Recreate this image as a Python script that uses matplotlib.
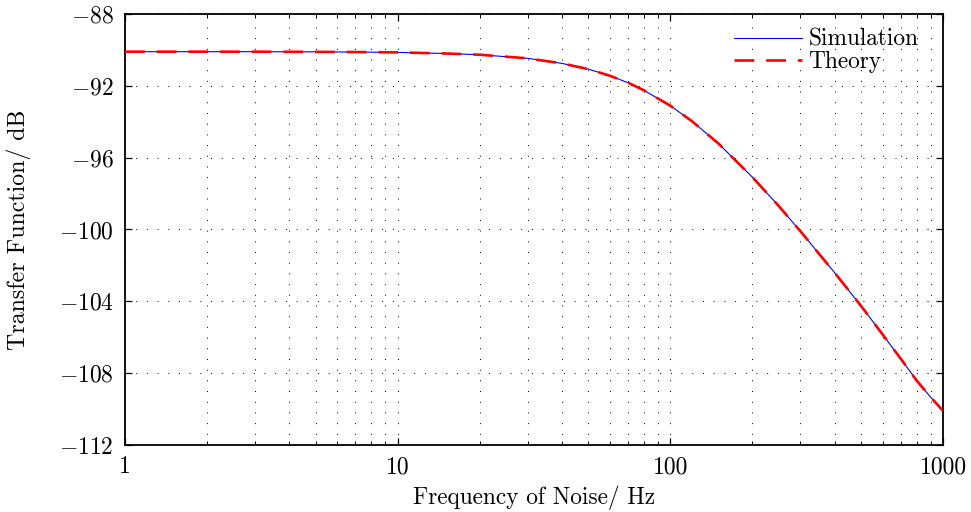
import matplotlib
matplotlib.use("Agg")
import matplotlib.pyplot as plt
from matplotlib.ticker import FixedLocator, NullFormatter

# values
freq = [1, 2, 3, 5, 7, 10, 15, 20, 30, 40, 50, 60, 70, 80, 100, 120, 150,
        200, 250, 300, 400, 500, 600, 700, 800, 900, 1000]
sim_db = [-90.10, -90.10, -90.10, -90.11, -90.12, -90.14, -90.20, -90.27,
          -90.47, -90.75, -91.07, -91.44, -91.83, -92.25, -93.11, -93.97,
          -95.21, -97.09, -98.70, -100.10, -102.40, -104.25, -105.84,
          -107.20, -108.41, -109.33, -110.10]
theory_db = [-90.10, -90.10, -90.10, -90.11, -90.12, -90.14, -90.20, -90.27,
             -90.47, -90.75, -91.07, -91.44, -91.83, -92.25, -93.11, -93.97,
             -95.21, -97.09, -98.70, -100.10, -102.40, -104.25, -105.84,
             -107.20, -108.41, -109.33, -110.10]
yticks = [-112, -108, -104, -100, -96, -92, -88]
xticks = [1, 10, 100, 1000]

plt.rcParams['font.family'] = 'cmr10'
plt.rcParams['mathtext.fontset'] = 'cm'
plt.rcParams['axes.formatter.use_mathtext'] = True

fig = plt.figure(figsize=(9.71, 5.12), dpi=100)
ax = fig.add_axes([0.1287, 0.1309, 0.8425, 0.8418])

ax.plot(freq, sim_db, color='blue', lw=0.8, label='Simulation', zorder=3)
ax.plot(freq, theory_db, color='red', lw=1.9, dashes=(7.5, 4.5), label='Theory', zorder=4)

ax.set_xscale('log')
ax.set_xlim(1, 1000)
ax.set_ylim(-112, -88)

ax.set_xticks(xticks)
ax.set_xticklabels([str(v) for v in xticks])
minors = [m * 10 ** e for e in range(3) for m in range(2, 10)]
ax.xaxis.set_minor_locator(FixedLocator(minors))
ax.xaxis.set_minor_formatter(NullFormatter())
ax.set_yticks(yticks)
ax.set_yticklabels(['$%d$' % v for v in yticks])

ax.tick_params(which='major', direction='in', length=5, width=0.9,
               top=True, right=True, labelsize=17, pad=8)
ax.tick_params(which='minor', direction='in', length=3, width=0.7,
               top=True, right=True)
ax.tick_params(axis='y', which='major', pad=8)

ax.grid(True, which='major', axis='y', color='black', lw=0.7, ls=(0, (1, 10)))
ax.grid(True, which='both', axis='x', color='black', lw=0.7, ls=(0, (1, 10)))

for s in ax.spines.values():
    s.set_linewidth(1.3)

ax.set_xlabel('Frequency of Noise/ Hz', fontsize=16.8, labelpad=5)
ax.set_ylabel('Transfer Function/ dB', fontsize=17.2, labelpad=20)

ax.legend(loc='upper right', bbox_to_anchor=(0.99, 1.004), frameon=False,
          fontsize=16.8, handlelength=2.9, labelspacing=0.0,
          handletextpad=0.3, borderaxespad=0.3)

fig.savefig('out.png', dpi=100)
